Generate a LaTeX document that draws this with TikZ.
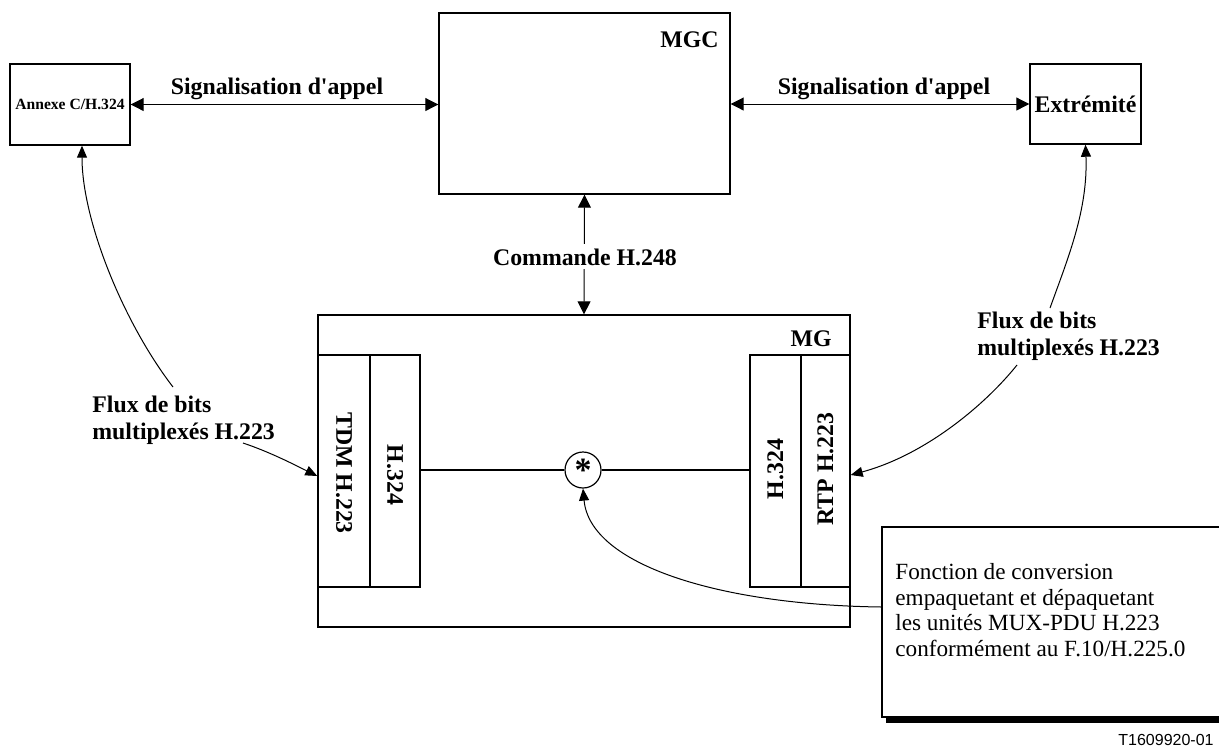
\documentclass[tikz,border=0pt]{standalone}
\usepackage{fontspec}
\setmainfont{Liberation Serif}
\newfontfamily\idfont{Liberation Sans}
\usetikzlibrary{arrows.meta,fit,calc}
\begin{document}
\begin{tikzpicture}[x=0.5pt,y=-0.5pt,
  box/.style={draw, line width=0.7pt, inner sep=0pt},
  lbl/.style={font=\fontsize{11.9}{13.5}\selectfont\bfseries, inner sep=0pt},
  arr/.style={line width=0.5pt, -{Triangle[length=6pt,width=5pt]}},
  darr/.style={line width=0.5pt, {Triangle[length=6.5pt,width=6.5pt]}-{Triangle[length=6.5pt,width=6.5pt]}},
  thin/.style={line width=0.6pt}
]
\useasboundingbox (0,0) rectangle (1219,746);
\clip (0,0) rectangle (1219,746);

% top boxes
\node[box, fit={(10,64) (130,145)}] (annexe) {};
\node[font=\fontsize{7.8}{9}\selectfont\bfseries, inner sep=0pt] at (annexe.center) {Annexe C/H.324};
\node[box, fit={(439,13) (730,194)}] (mgc) {};
\node[lbl, anchor=base east] at (719,47) {MGC};
\node[box, fit={(1030,64) (1141,144)}] (ext) {};
\node[lbl] at (ext.center) {Extrémité};

% MG
\node[box, fit={(318,315) (850,627)}] (mg) {};
\node[lbl, anchor=base east] at (832,346) {MG};
\node[box, fit={(318,355) (370,587)}] (tdm) {};
\node[box, fit={(370,355) (420,587)}] (hl) {};
\node[box, fit={(750,355) (801,587)}] (hr) {};
\node[box, fit={(801,355) (850,587)}] (rtp) {};
\node[lbl, rotate=-90] at ($(tdm.center)+(0,2)$) {TDM H.223};
\node[lbl, rotate=-90] at ($(hl.center)+(0,4)$) {H.324};
\node[lbl, rotate=90] at ($(hr.center)+(0,-2)$) {H.324};
\node[lbl, rotate=90] at ($(rtp.center)+(0,-2)$) {RTP H.223};

% star
\node[circle, draw, line width=0.6pt, minimum size=18pt, inner sep=0pt] (star) at (583,470) {};
\node[font=\fontsize{17}{17}\selectfont\bfseries, inner sep=0pt] at (star.center) {\raisebox{-3.2pt}{*}};
\draw[thin] (hl.east |- star) -- (star.west);
\draw[thin] (star.east) -- (hr.west |- star);

% text box
\fill (886,716) rectangle (1320,723);
\node[box, fill=white, fit={(882,527) (1300,717)}] (tbox) {};
\node[anchor=north west, align=left, font=\fontsize{11.6}{12.75}\selectfont, inner sep=0pt] (tboxtext) at (895,563)
  {Fonction de conversion\\empaquetant et dépaquetant\\les unités MUX-PDU H.223\\conformément au F.10/H.225.0};
\coordinate (tbc) at (882,607);
\draw[arr] (tbc) .. controls (720,605) and (590,565) .. (star.south);

% signalling
\draw[darr] (annexe.east) -- (mgc.west |- annexe.east);
\node[lbl, anchor=base] at (277,94) {Signalisation d\textquotesingle appel};
\draw[darr] (mgc.east |- ext.west) -- (ext.west);
\node[lbl, anchor=base] at (884,94) {Signalisation d\textquotesingle appel};

% command
\draw[darr] (mgc.south) -- (mg.north);
\node[lbl, fill=white, inner sep=2pt, anchor=base] at (585,265) {Commande H.248};

% left flux
\node[lbl, anchor=north west, align=left] (fluxL) at (92,396) {Flux de bits\\multiplexés H.223};
\coordinate (lA) at (173,387);
\coordinate (lB) at (243,443);
\draw[arr] (lA) .. controls (123,322) and (82,220) .. ($(annexe.south)+(12,0)$);
\draw[arr] (lB) .. controls (270,452) and (295,465) .. ($(tdm.west)+(0,5)$);

% right flux
\node[lbl, anchor=north west, align=left] (fluxR) at (977,312) {Flux de bits\\multiplexés H.223};
\coordinate (rA) at (1050,308);
\coordinate (rB) at (1017,365);
\draw[arr] (rA) .. controls (1068,258) and (1088,210) .. (ext.south);
\draw[arr] (rB) .. controls (985,405) and (925,455) .. ($(rtp.east)+(0,4)$);

% id
\node[font=\idfont\fontsize{8}{9}\selectfont, anchor=base east, inner sep=0pt] at (1214,745) {T1609920-01};
\end{tikzpicture}
\end{document}
